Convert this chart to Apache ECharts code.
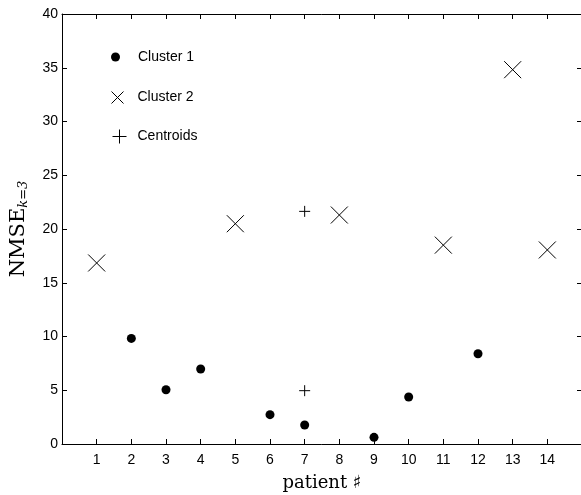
<!DOCTYPE html>
<html><head><meta charset="utf-8">
<script src="https://cdn.jsdelivr.net/npm/echarts@6/dist/echarts.min.js"></script>
<style>html,body{margin:0;padding:0;background:#fff;overflow:hidden}#c{width:581px;height:495px}</style>
</head><body><div id="c"></div>
<script>
const cluster1X = [2, 3, 4, 6, 7, 9, 10, 12];
const cluster1Y = [9.82, 5.05, 6.98, 2.73, 1.77, 0.62, 4.37, 8.40];
const cluster2X = [1, 5, 8, 11, 13, 14];
const cluster2Y = [16.84, 20.49, 21.3, 18.5, 34.82, 18.05];
const centroidX = [7, 7];
const centroidY = [21.64, 4.96];
const xTicks = [1,2,3,4,5,6,7,8,9,10,11,12,13,14];
const yTicks = [0,5,10,15,20,25,30,35,40];

const pair = (xs, ys) => xs.map((x, i) => [x, ys[i]]);
const crossPath = 'path://M0,0L10,10M10,0L0,10';
const plusPath = 'path://M5,0L5,10M0,5L10,5';
const font = 'Liberation Sans';
const serif = 'DejaVu Serif';

const chart = echarts.init(document.getElementById('c'), null, {renderer: 'canvas'});
const tickStyle = {show: true, inside: true, length: 5, lineStyle: {color: '#000', width: 1}};
const lineStyle = {show: true, onZero: false, lineStyle: {color: '#000', width: 1}};
const legendText = (pl) => ({fontFamily: font, fontSize: 14, color: '#000', padding: [0, 0, 0, pl]});
const strokeStyle = {color: 'none', borderColor: '#000', borderWidth: 1, opacity: 1};
chart.setOption({
  animation: false,
  backgroundColor: '#fff',
  grid: {left: 62, top: 14, width: 520, bottom: 51, outerBoundsMode: 'none', containLabel: false},
  legend: [
    {left: 111, top: 50, padding: 0, itemWidth: 9, itemHeight: 9, textStyle: legendText(13),
      data: [{name: 'Cluster 1', icon: 'circle', itemStyle: {color: '#000', opacity: 1}}]},
    {left: 109, top: 89, padding: 0, itemWidth: 12, itemHeight: 12, textStyle: legendText(9),
      data: [{name: 'Cluster 2', icon: crossPath, itemStyle: strokeStyle}]},
    {left: 110, top: 127, padding: 0, itemWidth: 14, itemHeight: 14, textStyle: legendText(6),
      data: [{name: 'Centroids', icon: plusPath, itemStyle: strokeStyle}]}
  ],
  xAxis: [{
    type: 'value', min: 0, max: 15, interval: 1,
    axisLine: lineStyle,
    axisTick: tickStyle,
    splitLine: {show: false},
    axisLabel: {fontFamily: font, fontSize: 14, color: '#000', margin: 9,
      formatter: v => xTicks.includes(v) ? String(v) : ''},
    name: 'patient \u266F', nameLocation: 'middle', nameGap: 30,
    nameTextStyle: {fontFamily: serif, fontSize: 18, color: '#000'}
  }, {
    type: 'value', position: 'top', min: 0, max: 15, interval: 1,
    axisLine: lineStyle,
    axisTick: tickStyle, axisLabel: {show: false}, splitLine: {show: false}
  }],
  yAxis: [{
    type: 'value', min: 0, max: 40, interval: 5,
    axisLine: lineStyle,
    axisTick: tickStyle,
    splitLine: {show: false},
    axisLabel: {fontFamily: font, fontSize: 14, color: '#000', margin: 4,
      formatter: v => yTicks.includes(v) ? String(v) : ''},
    name: '{a|NMSE}{b|k=3}', nameLocation: 'middle', nameGap: 32,
    nameTextStyle: {
      rich: {
        a: {fontFamily: serif, fontSize: 21, color: '#000'},
        b: {fontFamily: serif, fontSize: 13, color: '#000', fontStyle: 'italic', verticalAlign: 'bottom', padding: [9, 0, 0, 0]}
      }
    }
  }, {
    type: 'value', position: 'right', min: 0, max: 40, interval: 5,
    axisLine: {show: false, onZero: false},
    axisTick: tickStyle, axisLabel: {show: false}, splitLine: {show: false}
  }],
  series: [
    {name: 'Cluster 1', type: 'scatter', symbol: 'circle', symbolSize: 9,
      itemStyle: {color: '#000', opacity: 1}, data: pair(cluster1X, cluster1Y)},
    {name: 'Cluster 2', type: 'scatter', symbol: crossPath, symbolSize: 17,
      itemStyle: strokeStyle, data: pair(cluster2X, cluster2Y)},
    {name: 'Centroids', type: 'scatter', symbol: plusPath, symbolSize: 11,
      itemStyle: strokeStyle, data: pair(centroidX, centroidY)}
  ]
});
</script></body></html>
